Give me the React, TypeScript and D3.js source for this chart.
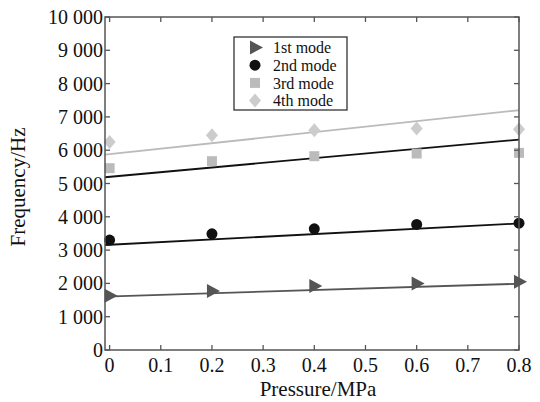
import React from "react";
import * as d3 from "d3";

const pressure = [0, 0.2, 0.4, 0.6, 0.8];
const mode1 = [1630, 1770, 1920, 2000, 2050];
const mode2 = [3300, 3490, 3640, 3770, 3810];
const mode3 = [5460, 5670, 5820, 5900, 5920];
const mode4 = [6250, 6450, 6600, 6650, 6630];

// fitted lines: value at pressure 0 and 0.8
const fit1 = [1610, 1990];
const fit2 = [3160, 3800];
const fit3 = [5200, 6320];
const fit4 = [5880, 7200];

const xTicks = [0, 0.1, 0.2, 0.3, 0.4, 0.5, 0.6, 0.7, 0.8];
const yTicks = [0, 1000, 2000, 3000, 4000, 5000, 6000, 7000, 8000, 9000, 10000];

const width = 540;
const height = 402;
const margin = { top: 17, right: 21, bottom: 52, left: 105 };
const font = "Liberation Serif, Times New Roman, DejaVu Serif, serif";

const fmt = (v: number) => {
  if (v < 1000) return String(v);
  const s = String(v);
  return s.slice(0, s.length - 3) + " " + s.slice(-3);
};

const series = [
  { name: "1st mode", values: mode1, fit: fit1, color: "#555", lineColor: "#555", shape: "tri" },
  { name: "2nd mode", values: mode2, fit: fit2, color: "#111", lineColor: "#111", shape: "circle" },
  { name: "3rd mode", values: mode3, fit: fit3, color: "#bbb", lineColor: "#111", shape: "square" },
  { name: "4th mode", values: mode4, fit: fit4, color: "#ccc", lineColor: "#bbb", shape: "diamond" },
];

function Marker({ shape, x, y, color }: { shape: string; x: number; y: number; color: string }) {
  if (shape === "tri") {
    return <path d={`M${x - 5},${y - 7}L${x + 8},${y}L${x - 5},${y + 7}Z`} fill={color} />;
  }
  if (shape === "circle") {
    return <circle cx={x} cy={y} r={5.5} fill={color} />;
  }
  if (shape === "square") {
    return <rect x={x - 5} y={y - 5} width={10} height={10} fill={color} />;
  }
  return <path d={`M${x},${y - 7}L${x + 6},${y}L${x},${y + 7}L${x - 6},${y}Z`} fill={color} />;
}

export default function App() {
  const x = d3
    .scaleLinear()
    .domain([-0.009, 0.8])
    .range([margin.left, width - margin.right]);
  const y = d3
    .scaleLinear()
    .domain([0, 10000])
    .range([height - margin.bottom, margin.top]);

  const x0 = x.domain()[0];
  const line = d3
    .line<[number, number]>()
    .x((d) => x(d[0]))
    .y((d) => y(d[1]));

  const fitPoints = (f: number[]): [number, number][] => {
    const slope = (f[1] - f[0]) / 0.8;
    return [
      [x0, f[0] + slope * x0],
      [0.8, f[1]],
    ];
  };

  const left = margin.left;
  const right = width - margin.right;
  const top = margin.top;
  const bottom = height - margin.bottom;
  const tickLen = 5;
  const txt = { fontFamily: font };

  return (
    <svg width={width} height={height} style={{ position: "absolute", left: 0, top: 0, background: "#fff" }}>
      <rect x={0} y={0} width={width} height={height} fill="#fff" />

      {/* fit lines */}
      {series.map((s) => (
        <path key={s.name + "fit"} d={line(fitPoints(s.fit)) || ""} fill="none" stroke={s.lineColor} strokeWidth={1.8} />
      ))}

      {/* markers */}
      {series.map((s) =>
        s.values.map((v, i) => (
          <Marker key={s.name + i} shape={s.shape} x={x(pressure[i])} y={y(v)} color={s.color} />
        ))
      )}

      {/* frame */}
      <rect x={left} y={top} width={right - left} height={bottom - top} fill="none" stroke="#555" strokeWidth={1.5} />

      {/* x ticks */}
      {xTicks.map((t) => (
        <g key={"x" + t}>
          <line x1={x(t)} x2={x(t)} y1={bottom} y2={bottom - tickLen} stroke="#555" strokeWidth={1.3} />
          <line x1={x(t)} x2={x(t)} y1={top} y2={top + tickLen} stroke="#555" strokeWidth={1.3} />
          <text x={x(t)} y={bottom + 22} textAnchor="middle" style={txt} fontSize={20} fill="#111">
            {t}
          </text>
        </g>
      ))}

      {/* y ticks */}
      {yTicks.map((t) => (
        <g key={"y" + t}>
          <line x1={left} x2={left + tickLen} y1={y(t)} y2={y(t)} stroke="#555" strokeWidth={1.3} />
          <line x1={right} x2={right - tickLen} y1={y(t)} y2={y(t)} stroke="#555" strokeWidth={1.3} />
          <text x={left - 2} y={y(t)} dy="0.35em" textAnchor="end" style={txt} fontSize={20} fill="#111">
            {fmt(t)}
          </text>
        </g>
      ))}

      {/* axis titles */}
      <text x={318} y={396} textAnchor="middle" style={txt} fontSize={21} fill="#111">
        Pressure/MPa
      </text>
      <text
        transform={`translate(25,187) rotate(-90)`}
        textAnchor="middle"
        style={txt}
        fontSize={21}
        fill="#111"
      >
        Frequency/Hz
      </text>

      {/* legend */}
      <g>
        <rect x={234} y={37} width={113} height={73} fill="#fff" stroke="#333" strokeWidth={1.3} />
        {series.map((s, i) => (
          <g key={s.name + "leg"}>
            <Marker shape={s.shape} x={255} y={47.5 + i * 17.7} color={s.color} />
            <text x={273} y={47.5 + i * 17.7} dy="0.35em" style={txt} fontSize={16} fill="#111">
              {s.name}
            </text>
          </g>
        ))}
      </g>
    </svg>
  );
}
